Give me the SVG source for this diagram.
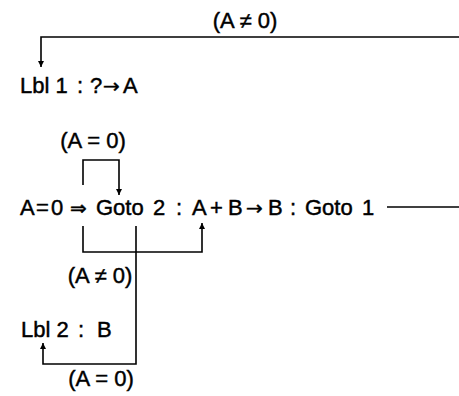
<svg xmlns="http://www.w3.org/2000/svg" width="459" height="396" viewBox="0 0 459 396">
<defs>
<marker id="arr" viewBox="0 0 10 10" refX="10" refY="5" markerWidth="9" markerHeight="6" markerUnits="userSpaceOnUse" orient="auto">
<path d="M0,0 L10,5 L0,10 Z" fill="#000"/>
</marker>
<style>
.t{font-family:"Liberation Sans",Arial,sans-serif;font-size:22px;fill:#000;stroke:#000;stroke-width:0.45}
.s{font-family:"DejaVu Sans",sans-serif;font-size:20px}
.c{fill:none;stroke:#000;stroke-width:1.6}
</style>
</defs>
<rect width="459" height="396" fill="#fff"/>
<g id="connectors">
<polyline class="c" points="459,37 41,37 41,67" marker-end="url(#arr)"/>
<polyline class="c" points="83,185 83,160 119,160 119,195" marker-end="url(#arr)"/>
<line class="c" x1="387" y1="207" x2="459" y2="207"/>
<polyline class="c" points="83,226 83,252 202,252 202,223" marker-end="url(#arr)"/>
<polyline class="c" points="136,226 136,364 43,364 43,343" marker-end="url(#arr)"/>
</g>
<g id="label-top"><text class="t" x="245" y="28" text-anchor="middle">(A ≠ 0)</text></g>
<g id="lbl1"><text class="t" y="93"><tspan x="20">Lbl 1</tspan><tspan x="77">:</tspan><tspan x="90">?</tspan><tspan class="s" x="103">→</tspan><tspan x="123">A</tspan></text></g>
<g id="label-eq0-top"><text class="t" x="93" y="148" text-anchor="middle">(A = 0)</text></g>
<g id="main"><text class="t" y="215"><tspan x="20">A</tspan><tspan x="36">=</tspan><tspan x="51">0</tspan><tspan class="s" x="70">⇒</tspan><tspan x="96">Goto</tspan><tspan x="153">2</tspan><tspan x="176">:</tspan><tspan x="192">A</tspan><tspan x="210">+</tspan><tspan x="228">B</tspan><tspan class="s" x="246">→</tspan><tspan x="268">B</tspan><tspan x="290">:</tspan><tspan x="305">Goto</tspan><tspan x="362">1</tspan></text></g>
<g id="label-ne0-mid"><text class="t" x="100" y="283" text-anchor="middle">(A ≠ 0)</text></g>
<g id="lbl2"><text class="t" y="337"><tspan x="21">Lbl 2</tspan><tspan x="78">:</tspan><tspan x="97">B</tspan></text></g>
<g id="label-eq0-bot"><text class="t" x="101" y="386" text-anchor="middle">(A = 0)</text></g>
</svg>
